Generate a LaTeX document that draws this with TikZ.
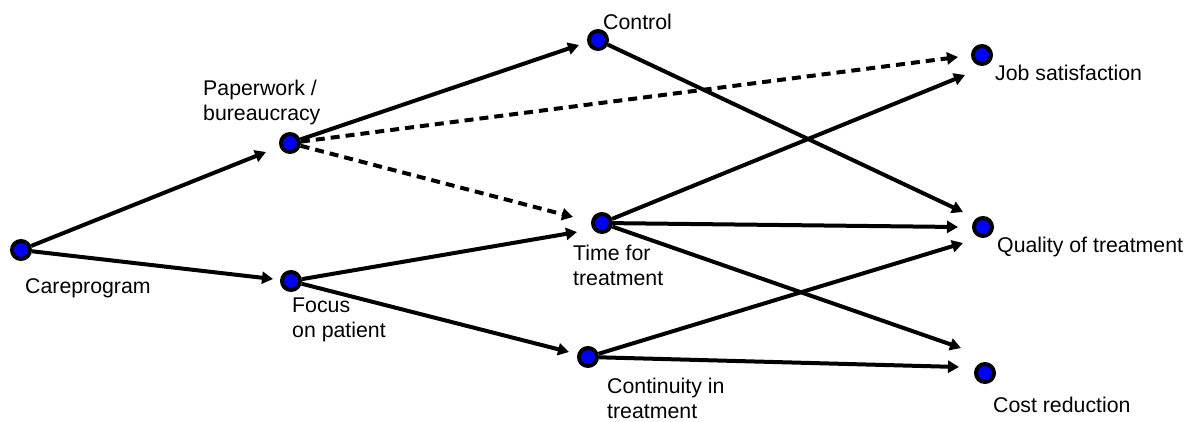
\documentclass[tikz,border=0pt]{standalone}
\usepackage{fontspec}
\setmainfont{Liberation Sans}
\usetikzlibrary{arrows.meta}
\begin{document}
\begin{tikzpicture}[x=1pt,y=-1pt,
  dot/.style={circle,draw=black,fill=blue,line width=4pt,minimum size=18pt,inner sep=0pt},
  lbl/.style={anchor=north west,inner sep=0pt,align=left,font=\fontsize{21.3}{25}\selectfont},
  arr/.style={line width=4pt,-{Triangle[length=11pt,width=12pt]}},
  darr/.style={arr,dash pattern=on 9pt off 6pt}]
\useasboundingbox (0,0) rectangle (1199,421);
% dots
\node[dot] (care) at (21,250) {};
\node[dot] (paper) at (290,143) {};
\node[dot] (focus) at (291,281) {};
\node[dot] (control) at (598,40) {};
\node[dot] (time) at (602,223) {};
\node[dot] (cont) at (588,357) {};
\node[dot] (job) at (982,55) {};
\node[dot] (quality) at (983,227) {};
\node[dot] (cost) at (985,373) {};
% labels
\node[lbl] (lcare) at (25,278) {Careprogram};
\node[lbl] (lpaper) at (203,80) {Paperwork /\\bureaucracy};
\node[lbl] (lfocus) at (292,298) {Focus\\on patient};
\node[lbl] (lcontrol) at (603,14) {Control};
\node[lbl] (ltime) at (573,245) {Time for\\treatment};
\node[lbl] (lcont) at (607,378) {Continuity in\\treatment};
\node[lbl] (ljob) at (995,65) {Job satisfaction};
\node[lbl] (lquality) at (997,237) {Quality of treatment};
\node[lbl] (lcost) at (993,397) {Cost reduction};
% connectors
\draw[arr] (care) -- ([xshift=-24pt,yshift=-9pt]paper.center);
\draw[arr] (care) -- ([xshift=-18pt,yshift=2pt]focus.center);
\draw[arr] (paper) -- ([xshift=-19pt,yshift=-5pt]control.center);
\draw[darr] (paper) -- ([xshift=-24pt,yshift=-2pt]job.center);
\draw[darr] (paper) -- ([xshift=-29pt,yshift=6pt]time.center);
\draw[arr] (focus) -- ([xshift=-25pt,yshift=-9pt]time.center);
\draw[arr] (focus) -- ([xshift=-19pt,yshift=5pt]cont.center);
\draw[arr] (control) -- ([xshift=-20pt,yshift=15pt]quality.center);
\draw[arr] (time) -- ([xshift=-17pt,yshift=-20pt]job.center);
\draw[arr] (time) -- ([xshift=-25pt,yshift=0pt]quality.center);
\draw[arr] (time) -- ([xshift=-24pt,yshift=25pt]cost.center);
\draw[arr] (cont) -- ([xshift=-20pt,yshift=-16pt]quality.center);
\draw[arr] (cont) -- ([xshift=-26pt,yshift=6pt]cost.center);
\end{tikzpicture}
\end{document}
